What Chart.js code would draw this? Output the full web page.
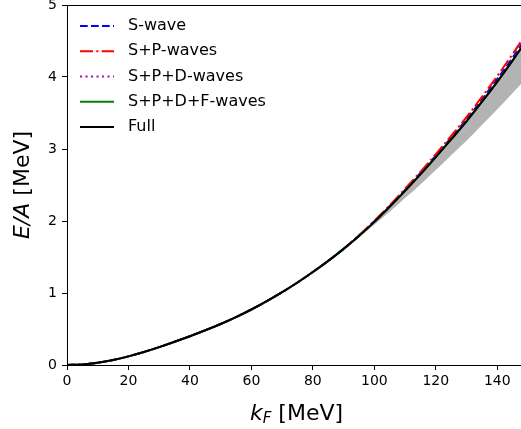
<!DOCTYPE html>
<html><head><meta charset="utf-8">
<script src="https://cdn.jsdelivr.net/npm/chart.js@4.4.1/dist/chart.umd.min.js"></script>
<style>html,body{margin:0;padding:0;overflow:hidden;background:#fff}#wrap{position:absolute;left:0;top:0;width:540px;height:429px}</style>
</head><body><div id="wrap"><canvas id="c" width="540" height="429"></canvas></div>
<script>
const kF = [0,5,10,15,20,25,30,35,40,45,50,55,60,65,70,75,80,85,90,95,100,105,110,115,120,125,130,135,140,145,150];
const full     = [0,0.008,0.032,0.07,0.12,0.18,0.248,0.322,0.40,0.482,0.57,0.666,0.771,0.886,1.011,1.146,1.291,1.446,1.613,1.793,1.988,2.198,2.418,2.648,2.888,3.133,3.383,3.653,3.933,4.228,4.538];
const sWave    = [0,0.008,0.032,0.07,0.12,0.18,0.248,0.322,0.40,0.482,0.57,0.666,0.771,0.886,1.011,1.146,1.291,1.446,1.613,1.798,1.998,2.208,2.433,2.668,2.908,3.158,3.413,3.688,3.973,4.268,4.588];
const spWave   = [0,0.008,0.032,0.07,0.12,0.18,0.248,0.322,0.40,0.482,0.57,0.666,0.771,0.886,1.011,1.146,1.291,1.446,1.613,1.803,2.003,2.218,2.448,2.683,2.928,3.183,3.443,3.723,4.013,4.318,4.638];
const spdWave  = [0,0.008,0.032,0.07,0.12,0.18,0.248,0.322,0.40,0.482,0.57,0.666,0.771,0.886,1.011,1.146,1.291,1.446,1.613,1.793,1.988,2.203,2.423,2.653,2.893,3.143,3.393,3.663,3.943,4.238,4.553];
const spdfWave = [0,0.008,0.032,0.07,0.12,0.18,0.248,0.322,0.40,0.482,0.57,0.666,0.771,0.886,1.011,1.146,1.291,1.446,1.613,1.793,1.988,2.201,2.421,2.651,2.891,3.136,3.387,3.657,3.937,4.233,4.543];
const bandLow  = [0,0.008,0.032,0.07,0.12,0.18,0.248,0.322,0.40,0.482,0.57,0.666,0.771,0.886,1.011,1.146,1.291,1.446,1.603,1.773,1.948,2.128,2.318,2.508,2.708,2.913,3.113,3.333,3.553,3.778,4.008];
const bandHigh = full;
const xTicks = [0,20,40,60,80,100,120,140];
const yTicks = [0,1,2,3,4,5];
const seriesLabels = ["S-wave","S+P-waves","S+P+D-waves","S+P+D+F-waves","Full"];

const pts = arr => kF.map((x,i)=>({x:x,y:arr[i]}));
const lineDs = (label, arr, color, dash, order) => ({
  label, data: pts(arr), borderColor: color, backgroundColor: color, borderWidth: 2,
  borderDash: dash, pointRadius: 0, fill: false, cubicInterpolationMode: 'monotone', order, inLegend: true
});

const datasets = [
  lineDs(seriesLabels[0], sWave, '#0000ff', [7.7,3.3], 5),
  lineDs(seriesLabels[1], spWave, '#ff0000', [13,3.3,2.1,3.3], 4),
  lineDs(seriesLabels[2], spdWave, '#bf00bf', [2.1,3.4], 3),
  lineDs(seriesLabels[3], spdfWave, '#008000', [], 2),
  lineDs(seriesLabels[4], full, '#000000', [], 1),
  {label:'band-low', data: pts(bandLow), borderWidth:0, pointRadius:0, fill:'+1',
   backgroundColor:'rgba(128,128,128,0.6)', borderColor:'rgba(0,0,0,0)', cubicInterpolationMode:'monotone', order: 10},
  {label:'band-high', data: pts(bandHigh), borderWidth:0, pointRadius:0, fill:false,
   borderColor:'rgba(0,0,0,0)', cubicInterpolationMode:'monotone', order: 11}
];

const decor = {
  id:'decor',
  afterDraw(chart){
    const ctx = chart.ctx, a = chart.chartArea;
    ctx.save();
    ctx.strokeStyle='#000'; ctx.lineWidth=1;
    ctx.beginPath();
    ctx.moveTo(a.left, a.top+0.5); ctx.lineTo(a.right, a.top+0.5);
    ctx.moveTo(a.right-0.5, a.top); ctx.lineTo(a.right-0.5, a.bottom);
    ctx.stroke();
    const rows = chart.data.datasets.filter(d=>d.inLegend);
    ctx.font = '16px "DejaVu Sans"';
    ctx.textBaseline='middle'; ctx.textAlign='left';
    rows.forEach((d,i)=>{
      const y = 26 + i*25.25;
      ctx.strokeStyle = d.borderColor; ctx.lineWidth = 2;
      ctx.setLineDash(d.borderDash||[]);
      ctx.beginPath(); ctx.moveTo(80, y); ctx.lineTo(114, y); ctx.stroke();
      ctx.setLineDash([]);
      ctx.fillStyle='#000';
      ctx.fillText(d.label, 128, y);
    });
    ctx.fillStyle='#000';
    ctx.textBaseline='alphabetic';
    const fMain='22px "DejaVu Sans"', fIt='oblique 22px "DejaVu Sans"', fSub='oblique 15px "DejaVu Sans"';
    ctx.font=fIt; const wk=ctx.measureText('k').width;
    ctx.font=fSub; const wF=ctx.measureText('F').width;
    ctx.font=fMain; const wr=ctx.measureText(' [MeV]').width;
    const tot = wk+wF+wr;
    let x0 = (a.left+a.right)/2 - tot/2 - 1;
    const by = 420;
    ctx.font=fIt; ctx.fillText('k', x0, by); x0+=wk;
    ctx.font=fSub; ctx.fillText('F', x0, by+3); x0+=wF;
    ctx.font=fMain; ctx.fillText(' [MeV]', x0, by);
    ctx.save();
    ctx.translate(29, (a.top+a.bottom)/2);
    ctx.rotate(-Math.PI/2);
    ctx.font=fIt; const we=ctx.measureText('E/A').width;
    ctx.font=fMain; const wm=ctx.measureText(' [MeV]').width;
    let xx = -(we+wm)/2;
    ctx.font=fIt; ctx.fillText('E/A', xx, 0); xx+=we;
    ctx.font=fMain; ctx.fillText(' [MeV]', xx, 0);
    ctx.restore();
    ctx.restore();
  }
};

const tickFont = {family:'"DejaVu Sans"', size:14};
new Chart(document.getElementById('c'), {
  type:'line',
  data:{datasets},
  options:{
    responsive:false, animation:false, devicePixelRatio:1,
    layout:{padding:{left:0,right:12,top:5,bottom:0}},
    plugins:{legend:{display:false}, tooltip:{enabled:false}},
    scales:{
      x:{type:'linear', min:0, max:150,
        afterBuildTicks(s){ s.ticks = xTicks.map(v=>({value:v})); },
        afterFit(s){ s.height=64; s.paddingLeft=0; s.paddingRight=0; },
        grid:{display:true, drawOnChartArea:false, drawTicks:true, tickLength:5, color:'#000', lineWidth:1},
        border:{display:true, color:'#000', width:1},
        ticks:{font:tickFont, color:'#000', padding:3, maxRotation:0, autoSkip:false}
      },
      y:{type:'linear', min:0, max:5,
        afterBuildTicks(s){ s.ticks = yTicks.map(v=>({value:v})); },
        afterFit(s){ s.width=67; s.paddingTop=0; s.paddingBottom=0; },
        grid:{display:true, drawOnChartArea:false, drawTicks:true, tickLength:5, color:'#000', lineWidth:1},
        border:{display:true, color:'#000', width:1},
        ticks:{font:tickFont, color:'#000', padding:5, autoSkip:false}
      }
    }
  },
  plugins:[decor]
});
</script>
</body></html>
